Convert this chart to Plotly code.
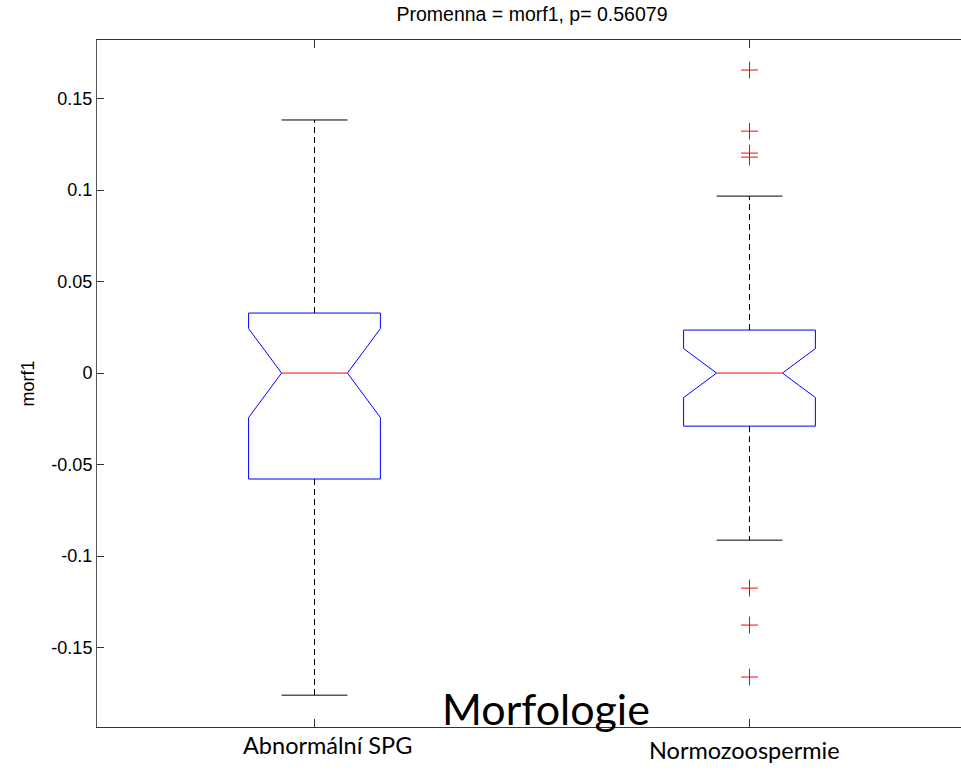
import plotly.graph_objects as go

# ---- data ----
categories = ["Abnormální SPG", "Normozoospermie"]
positions = [1, 2]
q1 = [-0.0579, -0.0290]
median = [0.0, 0.0]
q3 = [0.0328, 0.0235]
lower_whisker = [-0.1760, -0.0913]
upper_whisker = [0.1383, 0.0967]
notch_half = [0.0243, 0.0134]
outlier_x = [2, 2, 2, 2, 2, 2, 2]
outlier_y = [0.1656, 0.1322, 0.1202, 0.1180, -0.1175, -0.1377, -0.1661]

box_width = 0.303
half = box_width / 2
inner = half / 2

fig = go.Figure()

# notched box outlines (MATLAB style), built from the quartiles and notch spans
for p, a, m, b, n in zip(positions, q1, median, q3, notch_half):
    xs = [p - half, p + half, p + half, p + inner, p + half, p + half,
          p - half, p - half, p - inner, p - half, p - half]
    ys = [b, b, m + n, m, m - n, a, a, m - n, m, m + n, b]
    fig.add_trace(go.Scatter(x=xs, y=ys, mode="lines",
                             line=dict(color="#0000ff", width=1),
                             showlegend=False, hoverinfo="skip"))

# whiskers (dashed) and caps
for p, a, b, lo, hi in zip(positions, q1, q3, lower_whisker, upper_whisker):
    fig.add_trace(go.Scatter(x=[p, p, None, p, p], y=[b, hi, None, a, lo], mode="lines",
                             line=dict(color="black", width=1, dash="6px,4px"),
                             showlegend=False, hoverinfo="skip"))
    fig.add_trace(go.Scatter(x=[p - inner, p + inner, None, p - inner, p + inner],
                             y=[hi, hi, None, lo, lo], mode="lines",
                             line=dict(color="black", width=1),
                             showlegend=False, hoverinfo="skip"))

# medians (red)
for p, m in zip(positions, median):
    fig.add_trace(go.Scatter(x=[p - inner, p + inner], y=[m, m], mode="lines",
                             line=dict(color="#ff0000", width=1),
                             showlegend=False, hoverinfo="skip"))

# outliers
fig.add_trace(go.Scatter(x=outlier_x, y=outlier_y, mode="markers",
                         marker=dict(symbol="cross-thin", size=12,
                                     line=dict(color="#ff0000", width=1)),
                         showlegend=False, hoverinfo="skip"))

fig.update_layout(
    width=961, height=770,
    margin=dict(l=97, r=0, t=40, b=43),
    paper_bgcolor="white", plot_bgcolor="white",
    font=dict(family="Liberation Sans, Arial, sans-serif", size=18, color="black"),
    title=dict(text="Promenna = morf1, p= 0.56079", x=532 / 961, xanchor="center",
               y=1 - 14 / 770, yanchor="middle",
               font=dict(size=19.5, family="Liberation Sans, Arial, sans-serif")),
    xaxis=dict(range=[0.5, 0.5 + 864 / 435], tickvals=positions, ticktext=["", ""],
               showgrid=False, zeroline=False, showline=True, linecolor="#333333",
               linewidth=1, mirror="ticks", ticks="inside", ticklen=8,
               tickcolor="#333333"),
    yaxis=dict(range=[-0.1934, 0.182], tickvals=[-0.15, -0.1, -0.05, 0, 0.05, 0.1, 0.15],
               ticktext=["-0.15", "-0.1", "-0.05", "0", "0.05", "0.1", "0.15"],
               showgrid=False, zeroline=False, showline=True, linecolor="#555555",
               linewidth=1, ticks="inside", ticklen=7, tickcolor="#333333",
               tickfont=dict(size=18),
               title=dict(text="morf1", font=dict(size=18), standoff=12)),
)

# category labels (overlaid text, as in reference)
label_shift = [13, -5]
label_y = [-18 / 687, -23 / 687]
for p, c, dx, yy in zip(positions, categories, label_shift, label_y):
    fig.add_annotation(x=p, y=yy, xref="x", yref="paper", text=c, showarrow=False,
                       xshift=dx, yanchor="middle",
                       font=dict(family="Lato, Noto Sans, sans-serif", size=23.5, color="black"))

fig.add_annotation(x=(546 - 97) / 864, y=(727 - 708) / 687, xref="paper", yref="paper",
                   text="Morfologie", showarrow=False, xanchor="center", yanchor="middle",
                   font=dict(family="Lato, Noto Sans, sans-serif", size=43, color="black"))

fig.write_html("out.html", config={"displayModeBar": False},
               post_script="document.body.style.margin='0';document.body.style.overflow='hidden';")
